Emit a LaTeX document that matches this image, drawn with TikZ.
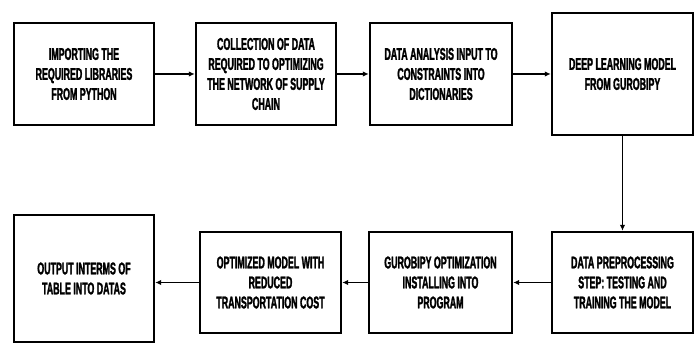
\documentclass[tikz,border=0pt]{standalone}
\usepackage{fontspec}
\newfontfamily\condfont[FakeStretch=0.52, BoldFeatures={FakeBold=1.6}]{Liberation Sans}
\usetikzlibrary{arrows.meta}
\tikzset{
  stepbox/.style={draw=black, line width=2.4pt, rectangle, align=center, inner sep=0pt,
    font=\condfont\bfseries\fontsize{17}{20}\selectfont},
  flow/.style={draw=black, line width=1.3pt, -{Latex[length=6pt,width=5.5pt]}}
}
\begin{document}
\begin{tikzpicture}[x=1pt,y=-1pt]
\useasboundingbox (0,0) rectangle (697,344);
\node[stepbox, minimum width=140pt, minimum height=102pt] (b1) at (84,74) {IMPORTING THE\\REQUIRED LIBRARIES\\FROM PYTHON};
\node[stepbox, minimum width=140pt, minimum height=102pt] (b2) at (266,74) {COLLECTION OF DATA\\REQUIRED TO OPTIMIZING\\THE NETWORK OF SUPPLY\\CHAIN};
\node[stepbox, minimum width=142pt, minimum height=102pt] (b3) at (441,74) {DATA ANALYSIS INPUT TO\\CONSTRAINTS INTO\\DICTIONARIES};
\node[stepbox, minimum width=141pt, minimum height=122pt] (b4) at (622.5,74) {DEEP LEARNING MODEL\\FROM GUROBIPY};
\node[stepbox, minimum width=141pt, minimum height=101pt] (b5) at (622.5,282.5) {DATA PREPROCESSING\\STEP: TESTING AND\\TRAINING THE MODEL};
\node[stepbox, minimum width=143pt, minimum height=101pt] (b6) at (440.5,282.5) {GUROBIPY OPTIMIZATION\\INSTALLING INTO\\PROGRAM};
\node[stepbox, minimum width=141pt, minimum height=101pt] (b7) at (270.5,282.5) {OPTIMIZED MODEL WITH\\REDUCED\\TRANSPORTATION COST};
\node[stepbox, minimum width=140pt, minimum height=127pt] (b8) at (84,278.5) {OUTPUT INTERMS OF\\TABLE INTO DATAS};
\draw[flow] (b1.east) -- (b2.west);
\draw[flow] (b2.east) -- (b3.west);
\draw[flow] (b3.east) -- (b4.west);
\draw[flow] (b4.south) -- (b5.north);
\draw[flow] (b5.west) -- (b6.east);
\draw[flow] (b6.west) -- (b7.east);
\draw[flow] (b7.west) -- (b8.east |- b7.west);
\end{tikzpicture}
\end{document}
